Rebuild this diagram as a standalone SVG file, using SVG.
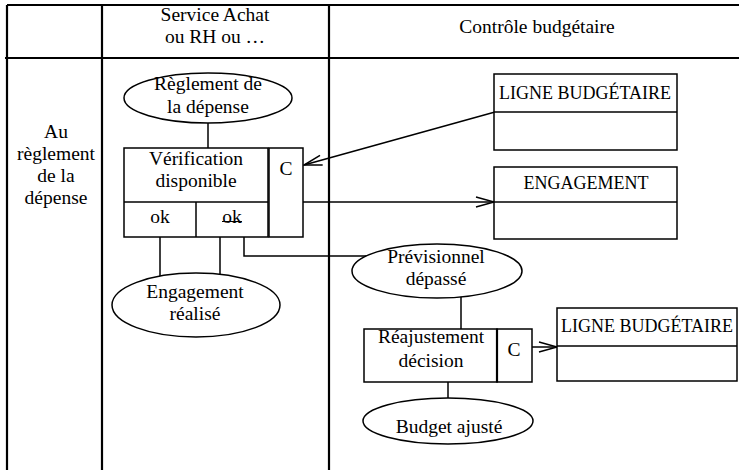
<svg xmlns="http://www.w3.org/2000/svg" width="739" height="470" viewBox="0 0 739 470">
<defs>
<style>
text{font-family:"Liberation Serif","Times New Roman",serif;font-size:19.5px;fill:#000;text-anchor:middle}
.cap{font-size:18px}
.grid{stroke:#000;stroke-width:2.2;fill:none}
.sh{fill:#fff;stroke:#000;stroke-width:1.5}
.ln{stroke:#000;stroke-width:1.5;fill:none}
</style>
<marker id="arr" viewBox="0 0 20 12" refX="19" refY="6" markerWidth="20" markerHeight="12" markerUnits="userSpaceOnUse" orient="auto">
<path d="M1,1 L19,6 L1,11" fill="none" stroke="#000" stroke-width="1.5"/>
</marker>
</defs>
<rect width="739" height="470" fill="#fff"/>
<g id="grid">
<line class="grid" x1="7" y1="5" x2="739" y2="5"/>
<line class="grid" x1="5" y1="58" x2="739" y2="58"/>
<line class="grid" x1="7" y1="5" x2="7" y2="470"/>
<line class="grid" x1="102" y1="5" x2="102" y2="470" stroke-width="3"/>
<line class="grid" x1="329" y1="5" x2="329" y2="470" stroke-width="3"/>
<text x="215" y="21">Service Achat</text>
<text x="215" y="43">ou RH ou …</text>
<text x="537" y="33">Contrôle budgétaire</text>
<text x="56" y="138">Au</text>
<text x="56" y="160">règlement</text>
<text x="56" y="182">de la</text>
<text x="56" y="204">dépense</text>
</g>
<g id="connectors">
<line class="ln" x1="208" y1="120" x2="208" y2="148"/>
<line class="ln" x1="160" y1="237" x2="160" y2="290"/>
<line class="ln" x1="220" y1="237" x2="220" y2="290"/>
<polyline class="ln" points="244,237 244,256 380,256"/>
<line class="ln" x1="495" y1="112" x2="304" y2="165" marker-end="url(#arr)"/>
<line class="ln" x1="303" y1="202" x2="494" y2="202" marker-end="url(#arr)"/>
<line class="ln" x1="461" y1="290" x2="461" y2="329"/>
<line class="ln" x1="532" y1="347" x2="557" y2="347" marker-end="url(#arr)"/>
<line class="ln" x1="448" y1="382" x2="448" y2="405"/>
</g>
<g id="reglement">
<ellipse class="sh" cx="208" cy="98" rx="84" ry="25"/>
<text x="208" y="90">Règlement de</text>
<text x="208" y="113">la dépense</text>
</g>
<g id="verification">
<rect class="sh" x="124" y="148" width="144" height="89"/>
<line class="ln" x1="124" y1="202" x2="268" y2="202"/>
<line class="ln" x1="196" y1="202" x2="196" y2="237"/>
<rect class="sh" x="269" y="148" width="34" height="89"/>
<text x="196" y="165">Vérification</text>
<text x="196" y="187">disponible</text>
<text x="160" y="223">ok</text>
<text x="232" y="223">ok</text>
<line stroke="#000" stroke-width="1" x1="222" y1="221.5" x2="242" y2="221.5"/>
<text x="286" y="175">C</text>
</g>
<g id="engagement-realise">
<ellipse class="sh" cx="196" cy="305" rx="84" ry="32"/>
<text x="195" y="298">Engagement</text>
<text x="195" y="320">réalisé</text>
</g>
<g id="ligne1">
<rect class="sh" x="494" y="74" width="183" height="76" stroke-width="1.2"/>
<line class="ln" x1="494" y1="112" x2="677" y2="112"/>
<text class="cap" x="585" y="99">LIGNE BUDGÉTAIRE</text>
</g>
<g id="engagement">
<rect class="sh" x="494" y="167" width="183" height="72" stroke-width="1.2"/>
<line class="ln" x1="494" y1="202" x2="677" y2="202"/>
<text class="cap" x="586" y="189">ENGAGEMENT</text>
</g>
<g id="previsionnel">
<ellipse class="sh" cx="437" cy="271" rx="85" ry="27"/>
<text x="436" y="263">Prévisionnel</text>
<text x="436" y="285">dépassé</text>
</g>
<g id="reajustement">
<rect class="sh" x="364" y="329" width="133" height="53"/>
<rect class="sh" x="497" y="329" width="35" height="53"/>
<line stroke="#000" stroke-width="2.2" x1="497" y1="329" x2="497" y2="382"/>
<text x="431" y="343">Réajustement</text>
<text x="431" y="367">décision</text>
<text x="514" y="356">C</text>
</g>
<g id="ligne2">
<rect class="sh" x="557" y="308" width="180" height="73" stroke-width="1.2"/>
<line class="ln" x1="557" y1="346" x2="737" y2="346"/>
<text class="cap" x="647" y="332">LIGNE BUDGÉTAIRE</text>
</g>
<g id="budget">
<ellipse class="sh" cx="448" cy="421" rx="85" ry="23"/>
<text x="449" y="433">Budget ajusté</text>
</g>
</svg>
